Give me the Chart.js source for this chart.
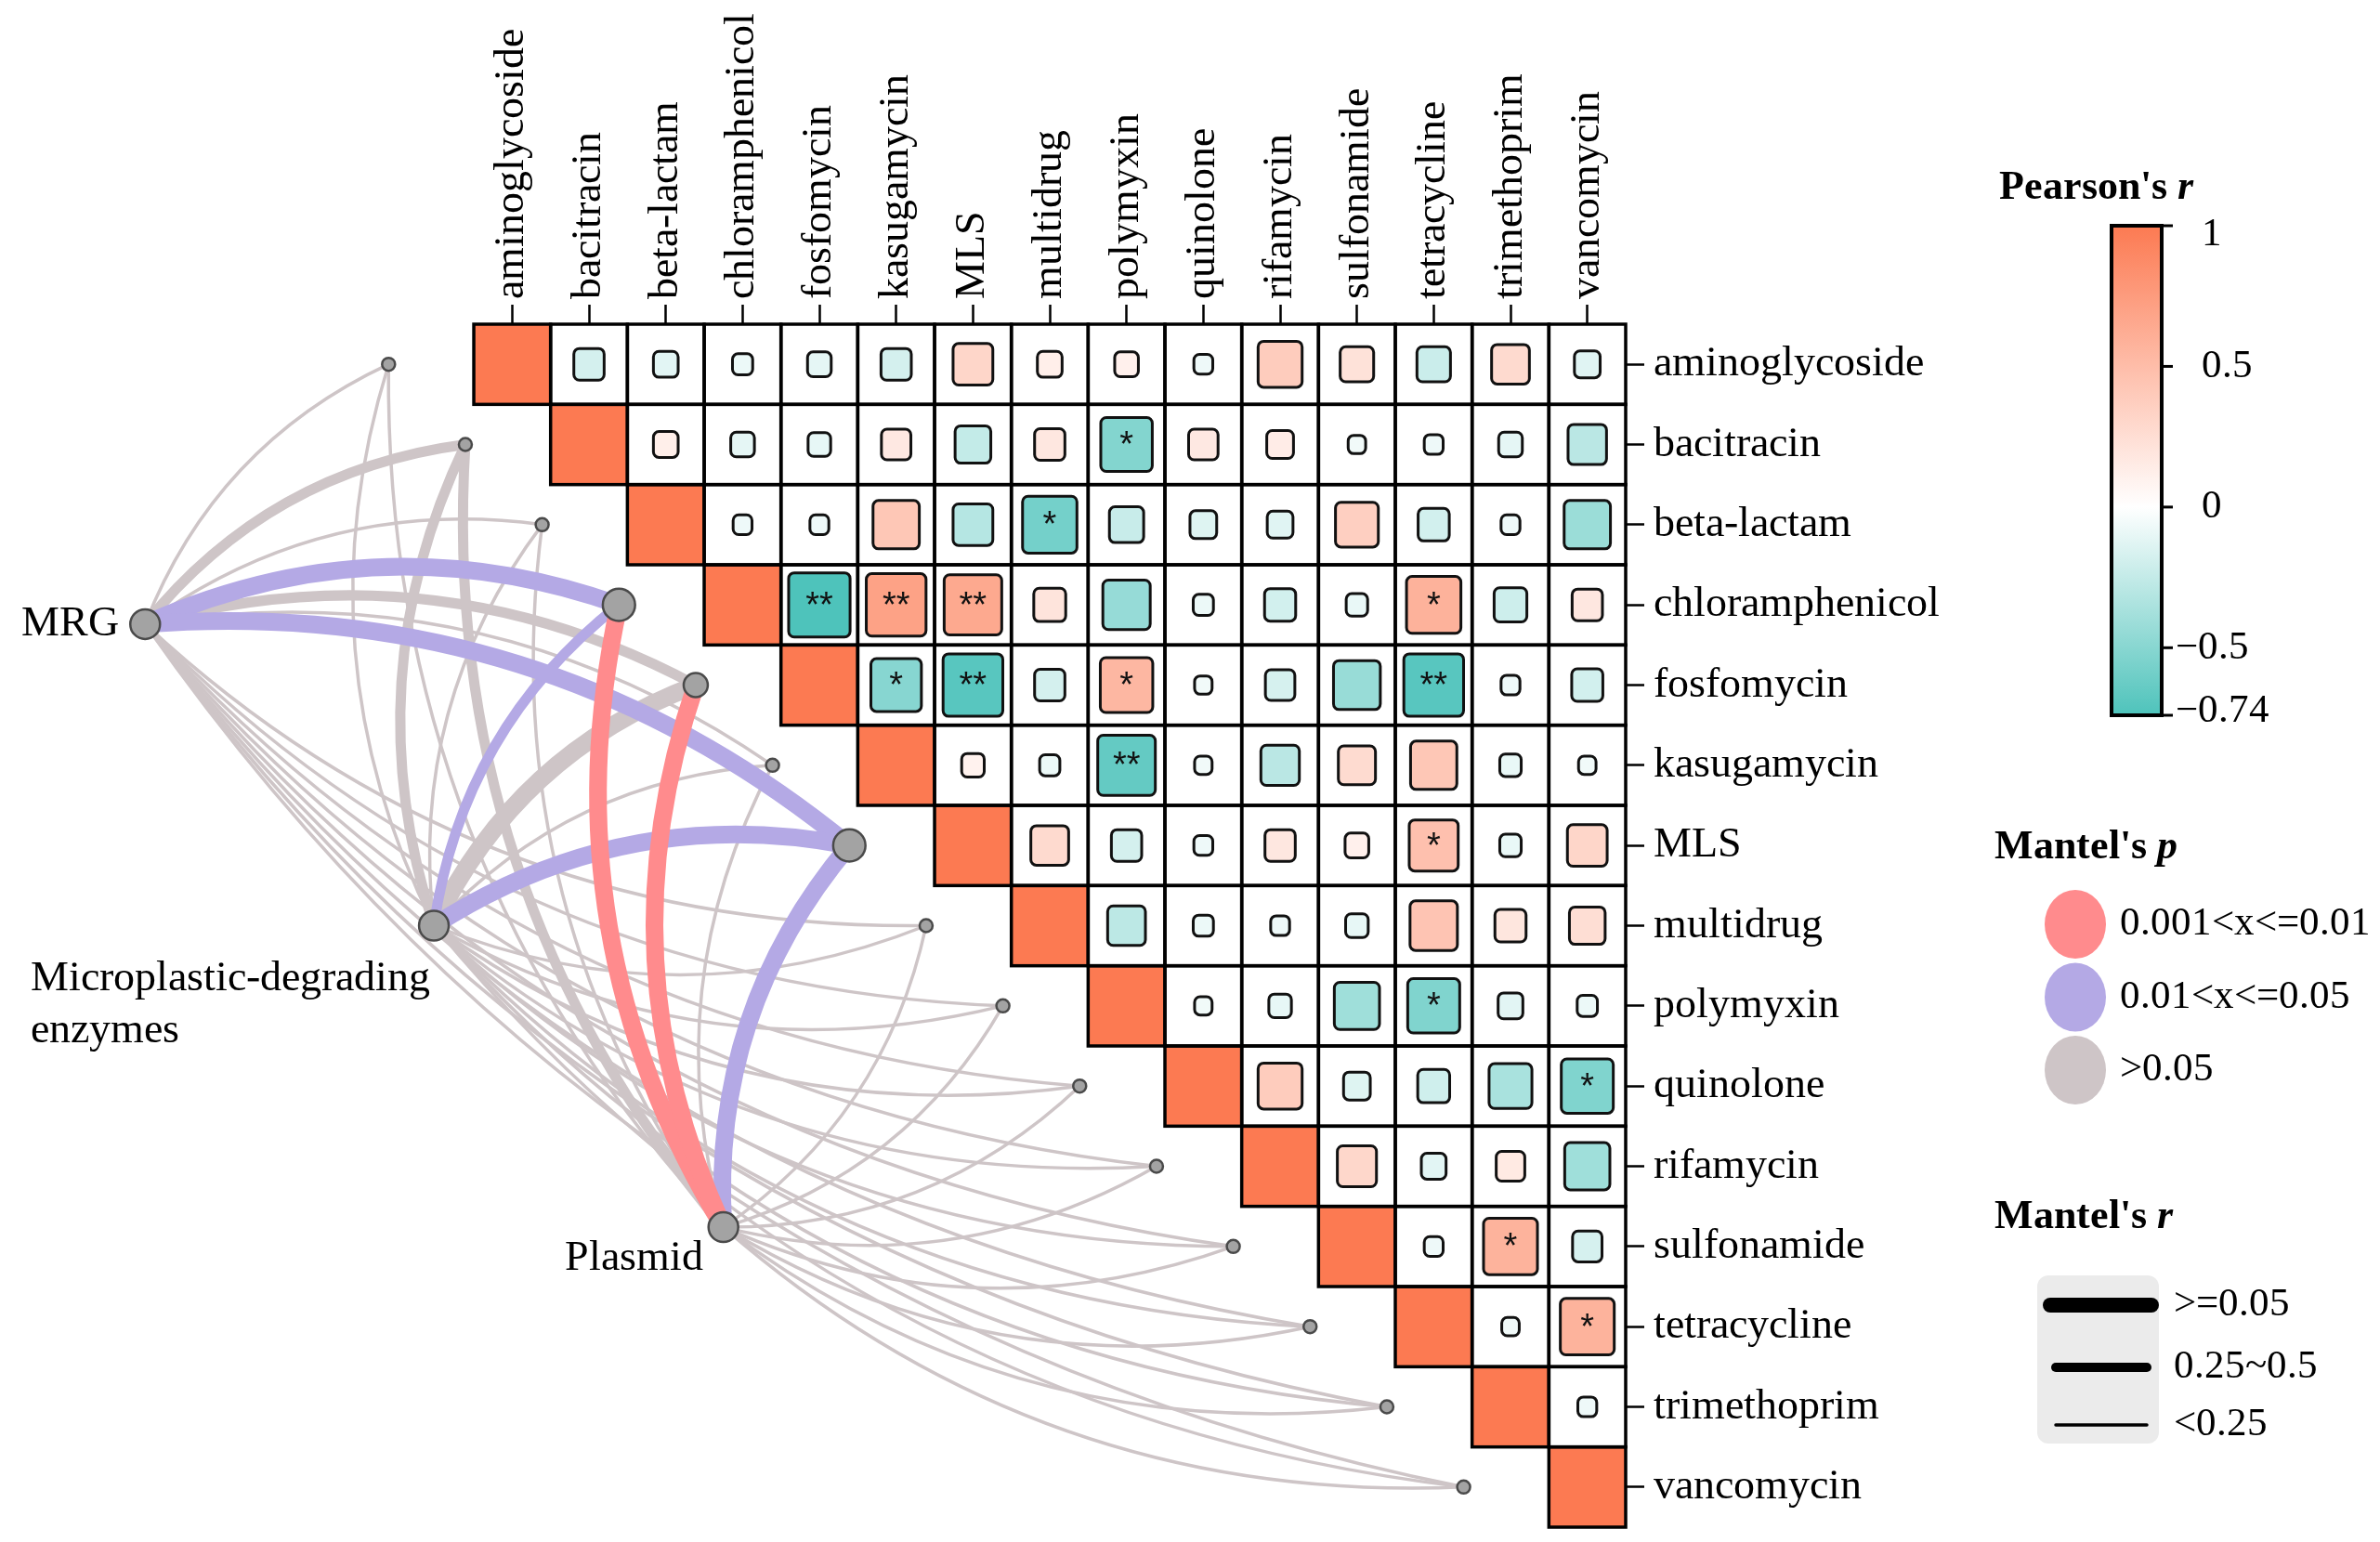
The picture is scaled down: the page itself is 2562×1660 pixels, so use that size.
<!DOCTYPE html>
<html lang="en">

<head>
  <meta charset="UTF-8">
  <title>Mantel network and Pearson correlation matrix</title>
  <style>
    @font-face { font-family: 'LibSerif'; font-weight: normal; font-style: normal;
      src: local('Liberation Serif'), local('LiberationSerif'), local('Liberation Serif Regular'), local('LiberationSerif-Regular'); }
    @font-face { font-family: 'LibSerif'; font-weight: bold; font-style: normal;
      src: local('Liberation Serif Bold'), local('LiberationSerif-Bold'); }
    @font-face { font-family: 'LibSerif'; font-weight: bold; font-style: italic;
      src: local('Liberation Serif Bold Italic'), local('LiberationSerif-BoldItalic'); }
    body { margin: 0; background: #fff; overflow: hidden; font-family: 'LibSerif', 'Liberation Serif', serif; }
    canvas { display: block; }
  </style>
</head>

<body>
  <canvas id="grafico" width="2562" height="1660" style="width: 2562px; height: 1660px"></canvas>

  <script src="https://cdn.jsdelivr.net/npm/chart.js"></script>

  <script>
    const ctx = document.getElementById('grafico');

    const genes = ['aminoglycoside', 'bacitracin', 'beta-lactam', 'chloramphenicol', 'fosfomycin', 'kasugamycin', 'MLS',
      'multidrug', 'polymyxin', 'quinolone', 'rifamycin', 'sulfonamide', 'tetracycline', 'trimethoprim', 'vancomycin']

    // Pearson's r, upper triangle: each row holds the values right of the diagonal
    const corAminoglycoside = [-0.18, -0.12, -0.08, -0.11, -0.18, 0.31, 0.12, 0.11, -0.07, 0.38, 0.22, -0.22, 0.28, -0.13]
    const corBacitracin = [0.12, -0.11, -0.10, 0.17, -0.25, 0.18, -0.52, 0.17, 0.14, -0.06, -0.07, -0.11, -0.29]
    const corBetaLactam = [-0.07, -0.07, 0.42, -0.31, -0.58, -0.23, -0.14, -0.13, 0.36, -0.19, -0.07, -0.42]
    const corChloramphenicol = [-0.74, 0.70, 0.65, 0.20, -0.44, -0.08, -0.19, -0.09, 0.58, -0.21, 0.18]
    const corFosfomycin = [-0.50, -0.70, -0.18, 0.54, -0.06, -0.17, -0.43, -0.70, -0.07, -0.19]
    const corKasugamycin = [0.10, -0.08, -0.65, -0.06, -0.29, 0.27, 0.42, -0.09, -0.06]
    const corMLS = [0.28, -0.18, -0.07, 0.18, 0.11, 0.47, -0.09, 0.31]
    const corMultidrug = [-0.28, -0.08, -0.07, -0.10, 0.44, 0.19, 0.25]
    const corPolymyxin = [-0.06, -0.10, -0.40, -0.53, -0.12, -0.08]
    const corQuinolone = [0.38, -0.14, -0.20, -0.36, -0.53]
    const corRifamycin = [0.30, -0.12, 0.16, -0.40]
    const corSulfonamide = [-0.07, 0.57, -0.17]
    const corTetracycline = [-0.06, 0.57]
    const corTrimethoprim = [-0.07]

    const signif = [
      ['bacitracin', 'polymyxin', '*'], ['beta-lactam', 'multidrug', '*'],
      ['chloramphenicol', 'fosfomycin', '**'], ['chloramphenicol', 'kasugamycin', '**'],
      ['chloramphenicol', 'MLS', '**'], ['chloramphenicol', 'tetracycline', '*'],
      ['fosfomycin', 'kasugamycin', '*'], ['fosfomycin', 'MLS', '**'], ['fosfomycin', 'polymyxin', '*'],
      ['fosfomycin', 'tetracycline', '**'], ['kasugamycin', 'polymyxin', '**'], ['MLS', 'tetracycline', '*'],
      ['polymyxin', 'tetracycline', '*'], ['quinolone', 'vancomycin', '*'],
      ['sulfonamide', 'trimethoprim', '*'], ['tetracycline', 'vancomycin', '*']
    ]

    // Mantel test, one value per gene (same order as genes)
    const envNames = ['MRG', 'Microplastic-degrading enzymes', 'Plasmid']
    const mantelP_MRG = [0.2, 0.2, 0.2, 0.03, 0.2, 0.2, 0.03, 0.2, 0.2, 0.2, 0.2, 0.2, 0.2, 0.2, 0.2]
    const mantelR_MRG = [0.15, 0.35, 0.15, 0.55, 0.35, 0.15, 0.55, 0.15, 0.15, 0.15, 0.15, 0.15, 0.15, 0.15, 0.15]
    const mantelP_enzymes = [0.2, 0.2, 0.2, 0.03, 0.2, 0.2, 0.03, 0.2, 0.2, 0.2, 0.2, 0.2, 0.2, 0.2, 0.2]
    const mantelR_enzymes = [0.15, 0.35, 0.15, 0.35, 0.55, 0.15, 0.55, 0.15, 0.15, 0.15, 0.15, 0.15, 0.15, 0.15, 0.15]
    const mantelP_plasmid = [0.2, 0.2, 0.2, 0.005, 0.005, 0.2, 0.03, 0.2, 0.2, 0.2, 0.2, 0.2, 0.2, 0.2, 0.2]
    const mantelR_plasmid = [0.15, 0.35, 0.15, 0.55, 0.55, 0.15, 0.55, 0.15, 0.15, 0.15, 0.15, 0.15, 0.15, 0.15, 0.15]

    const corRows = [corAminoglycoside, corBacitracin, corBetaLactam, corChloramphenicol, corFosfomycin, corKasugamycin,
      corMLS, corMultidrug, corPolymyxin, corQuinolone, corRifamycin, corSulfonamide, corTetracycline, corTrimethoprim]
    const mantelP = [mantelP_MRG, mantelP_enzymes, mantelP_plasmid]
    const mantelR = [mantelR_MRG, mantelR_enzymes, mantelR_plasmid]

    // layout (data units of the matrix grid)
    const envLayout = [[-4.28, 3.74], [-0.52, 7.50], [3.25, 11.26]]
    const targetShift = -1.11
    const n = genes.length

    const serif = 'LibSerif, "Liberation Serif", "Times New Roman", "DejaVu Serif", serif'
    const hi = [252, 122, 82], lo = [78, 195, 187]
    const pink = '#FF8B8D', purple = '#B4A9E5', grey = '#CEC5C7'

    let corr = (i, j) => i === j ? 1 : (i < j ? corRows[i][j - i - 1] : corRows[j][i - j - 1])

    let mix = (c, t) => 'rgb(' + c.map(v => Math.round(255 + (v - 255) * t)).join(',') + ')'
    let corrColor = r => r >= 0 ? mix(hi, Math.min(r, 1)) : mix(lo, Math.min(-r / 0.74, 1))
    let pColor = p => p <= 0.01 ? pink : (p <= 0.05 ? purple : grey)
    let rWidth = r => r >= 0.5 ? 19 : (r >= 0.25 ? 11 : 3.5)

    // node size from the number of significant links
    let sigCount = k => mantelP.filter(p => p[k] <= 0.05).length

    const matrixPlugin = {
      id: 'matrix',
      beforeDatasetsDraw(chart) {
        const { ctx, scales: { x, y } } = chart
        ctx.save()

        // Mantel links, grey first so coloured ones sit on top
        let edges = []
        for (let e = 0; e < envLayout.length; e++) {
          for (let k = 0; k < n; k++) {
            edges.push({ e, k, p: mantelP[e][k], r: mantelR[e][k] })
          }
        }
        let rank = ed => (ed.p > 0.05 ? 0 : ed.p > 0.01 ? 10 : 20) + ed.r
        edges.sort((a, b) => rank(a) - rank(b))
        edges.forEach(ed => {
          const x0 = x.getPixelForValue(envLayout[ed.e][0]), y0 = y.getPixelForValue(envLayout[ed.e][1])
          const x1 = x.getPixelForValue(ed.k + targetShift), y1 = y.getPixelForValue(ed.k + 0.5)
          const dx = x1 - x0, dy = y1 - y0
          const sign = ed.k < 7 ? 1 : -1
          const c = 0.2 * sign
          const cx = (x0 + x1) / 2 + dy * c, cy = (y0 + y1) / 2 - dx * c
          ctx.beginPath()
          ctx.moveTo(x0, y0)
          ctx.quadraticCurveTo(cx, cy, x1, y1)
          ctx.strokeStyle = pColor(ed.p)
          ctx.lineWidth = rWidth(ed.r)
          ctx.stroke()
        })

        // correlation cells
        for (let i = 0; i < n; i++) {
          for (let j = i; j < n; j++) {
            const x0 = x.getPixelForValue(j), x1 = x.getPixelForValue(j + 1)
            const y0 = y.getPixelForValue(i), y1 = y.getPixelForValue(i + 1)
            const w = x1 - x0, h = y1 - y0
            const r = corr(i, j)
            ctx.fillStyle = i === j ? corrColor(1) : '#fff'
            ctx.fillRect(x0, y0, w, h)
            if (i !== j) {
              const f = 0.93 * Math.sqrt(Math.abs(r))
              const sw = w * f, sh = h * f
              ctx.beginPath()
              ctx.roundRect(x0 + (w - sw) / 2, y0 + (h - sh) / 2, sw, sh, 6)
              ctx.fillStyle = corrColor(r)
              ctx.fill()
              ctx.lineWidth = 3
              ctx.strokeStyle = '#111'
              ctx.stroke()
            }
          }
        }
        ctx.lineWidth = 3.5
        ctx.strokeStyle = '#000'
        for (let i = 0; i < n; i++) {
          for (let j = i; j < n; j++) {
            const x0 = x.getPixelForValue(j), x1 = x.getPixelForValue(j + 1)
            const y0 = y.getPixelForValue(i), y1 = y.getPixelForValue(i + 1)
            ctx.strokeRect(x0, y0, x1 - x0, y1 - y0)
          }
        }

        // significance marks
        ctx.fillStyle = '#111'
        ctx.font = '38px "Liberation Sans", Arial, sans-serif'
        ctx.textAlign = 'center'
        ctx.textBaseline = 'middle'
        signif.forEach(s => {
          const i = genes.indexOf(s[0]), j = genes.indexOf(s[1])
          const cx = x.getPixelForValue(j + 0.5), cy = y.getPixelForValue(i + 0.5)
          ctx.fillText(s[2], cx, cy + 2)
        })
        ctx.restore()
      },

      afterDatasetsDraw(chart) {
        const { ctx } = chart
        const pts = chart.getDatasetMeta(1).data
        ctx.save()
        ctx.fillStyle = '#000'
        ctx.font = '46px ' + serif
        ctx.textBaseline = 'middle'
        ctx.textAlign = 'right'
        ctx.fillText(envNames[0], pts[0].x - 28, pts[0].y)
        ctx.textAlign = 'left'
        ctx.fillText('Microplastic-degrading', pts[1].x - 434, pts[1].y + 57)
        ctx.fillText('enzymes', pts[1].x - 434, pts[1].y + 113)
        ctx.textAlign = 'right'
        ctx.fillText(envNames[2], pts[2].x - 22, pts[2].y + 34)
        ctx.restore()
      },

      afterDraw(chart) {
        const { ctx } = chart
        ctx.save()
        ctx.fillStyle = '#000'
        ctx.textBaseline = 'middle'
        ctx.textAlign = 'left'

        let title = (a, b, tx, ty) => {
          ctx.font = 'bold 44px ' + serif
          ctx.fillText(a, tx, ty)
          const wd = ctx.measureText(a).width
          ctx.font = 'italic bold 44px ' + serif
          ctx.fillText(b, tx + wd, ty)
        }

        // Pearson's r colour bar
        title("Pearson's ", 'r', 2152, 203)
        const bx = 2273, bw = 54, bt = 243, bh = 527
        let vy = v => bt + (1 - v) / 1.74 * bh
        const grad = ctx.createLinearGradient(0, bt, 0, bt + bh)
        const z = (vy(0) - bt) / bh
        grad.addColorStop(0, corrColor(1))
        grad.addColorStop(z / 2, corrColor(0.5))
        grad.addColorStop(z, '#fff')
        grad.addColorStop(z + (1 - z) / 2, corrColor(-0.37))
        grad.addColorStop(1, corrColor(-0.74))
        ctx.fillStyle = grad
        ctx.fillRect(bx, bt, bw, bh)
        ctx.lineWidth = 4
        ctx.strokeStyle = '#000'
        ctx.strokeRect(bx, bt, bw, bh)
        ctx.fillStyle = '#000'
        ctx.font = '43px ' + serif
        const cbTicks = [1, 0.5, 0, -0.5, -0.74]
        cbTicks.forEach(v => {
          const ty = vy(v)
          ctx.beginPath()
          ctx.moveTo(bx + bw, ty)
          ctx.lineTo(bx + bw + 12, ty)
          ctx.lineWidth = 3
          ctx.stroke()
          const lab = v < 0 ? '\u2212' + String(-v) : String(v)
          ctx.fillText(lab, v < 0 ? 2342 : 2370, ty + (v === 1 ? 10 : (v === -0.74 ? -4 : 0)))
        })

        // Mantel's p
        title("Mantel's ", 'p', 2147, 913)
        const pItems = [[pink, '0.001<x<=0.01'], [purple, '0.01<x<=0.05'], [grey, '>0.05']]
        ctx.font = '43px ' + serif
        pItems.forEach((it, i) => {
          const ty = 995 + i * 78.5
          ctx.beginPath()
          ctx.ellipse(2234, ty, 33, 37, 0, 0, Math.PI * 2)
          ctx.fillStyle = it[0]
          ctx.fill()
          ctx.fillStyle = '#000'
          ctx.fillText(it[1], 2282, ty)
        })

        // Mantel's r
        title("Mantel's ", 'r', 2147, 1311)
        ctx.fillStyle = '#EBEBEB'
        ctx.beginPath()
        ctx.roundRect(2193, 1373, 131, 181, 12)
        ctx.fill()
        const rItems = [[0.55, '>=0.05', 1405, 2207, 2316, 16], [0.35, '0.25~0.5', 1472, 2213, 2311, 10],
          [0.15, '<0.25', 1534, 2213, 2311, 3.5]]
        ctx.lineCap = 'round'
        ctx.strokeStyle = '#000'
        rItems.forEach(it => {
          ctx.beginPath()
          ctx.moveTo(it[3], it[2])
          ctx.lineTo(it[4], it[2])
          ctx.lineWidth = it[5]
          ctx.stroke()
          ctx.fillStyle = '#000'
          ctx.font = '43px ' + serif
          ctx.fillText(it[1], 2340, it[2])
        })
        ctx.restore()
      }
    }

    let noPad = s => { s.paddingLeft = 0; s.paddingRight = 0; s.paddingTop = 0; s.paddingBottom = 0 }

    let desenhar = () => {
      new Chart(ctx, {
        type: 'scatter',
        data: {
          datasets: [{
            label: 'genes',
            data: genes.map((g, k) => ({ x: k + targetShift, y: k + 0.5 })),
            pointRadius: c => 7 + 6 * Math.sqrt(sigCount(c.dataIndex)),
            pointBackgroundColor: '#A3A3A3',
            pointBorderColor: '#4A4A4A',
            pointBorderWidth: 2.5
          }, {
            label: 'env',
            data: envLayout.map(p => ({ x: p[0], y: p[1] })),
            pointRadius: 16,
            pointBackgroundColor: '#A3A3A3',
            pointBorderColor: '#4A4A4A',
            pointBorderWidth: 2.5
          }]
        },
        options: {
          responsive: false,
          devicePixelRatio: 1,
          animation: false,
          layout: { autoPadding: false, padding: { left: 0, top: 0, right: 432, bottom: 16 } },
          plugins: { legend: { display: false }, tooltip: { enabled: false } },
          scales: {
            x: {
              type: 'linear',
              position: 'top',
              min: -6.17,
              max: 15,
              border: { display: false },
              grid: { drawOnChartArea: false, tickLength: 21, tickColor: '#000', tickWidth: 2.5 },
              ticks: {
                autoSkip: false, minRotation: 90, maxRotation: 90, padding: 6, color: '#000',
                labelOffset: 55,
                font: { family: serif, size: 46 },
                callback: (v, i) => genes[i]
              },
              afterBuildTicks: s => { s.ticks = genes.map((g, i) => ({ value: i + 0.5 })) },
              afterFit: s => { s.height = 349; noPad(s) }
            },
            y: {
              type: 'linear',
              position: 'right',
              min: 0,
              max: 15,
              reverse: true,
              border: { display: false },
              grid: { drawOnChartArea: false, tickLength: 20, tickColor: '#000', tickWidth: 2.5 },
              ticks: {
                autoSkip: false, padding: 10, color: '#000',
                font: { family: serif, size: 46 },
                callback: (v, i) => genes[i]
              },
              afterBuildTicks: s => { s.ticks = genes.map((g, i) => ({ value: i + 0.5 })) },
              afterFit: s => { s.width = 380; noPad(s) }
            }
          }
        },
        plugins: [matrixPlugin]
      })
    }

    Promise.all([
      document.fonts.load('46px LibSerif'),
      document.fonts.load('bold 44px LibSerif'),
      document.fonts.load('italic bold 44px LibSerif')
    ]).catch(() => {}).then(desenhar)
  </script>
</body>

</html>
